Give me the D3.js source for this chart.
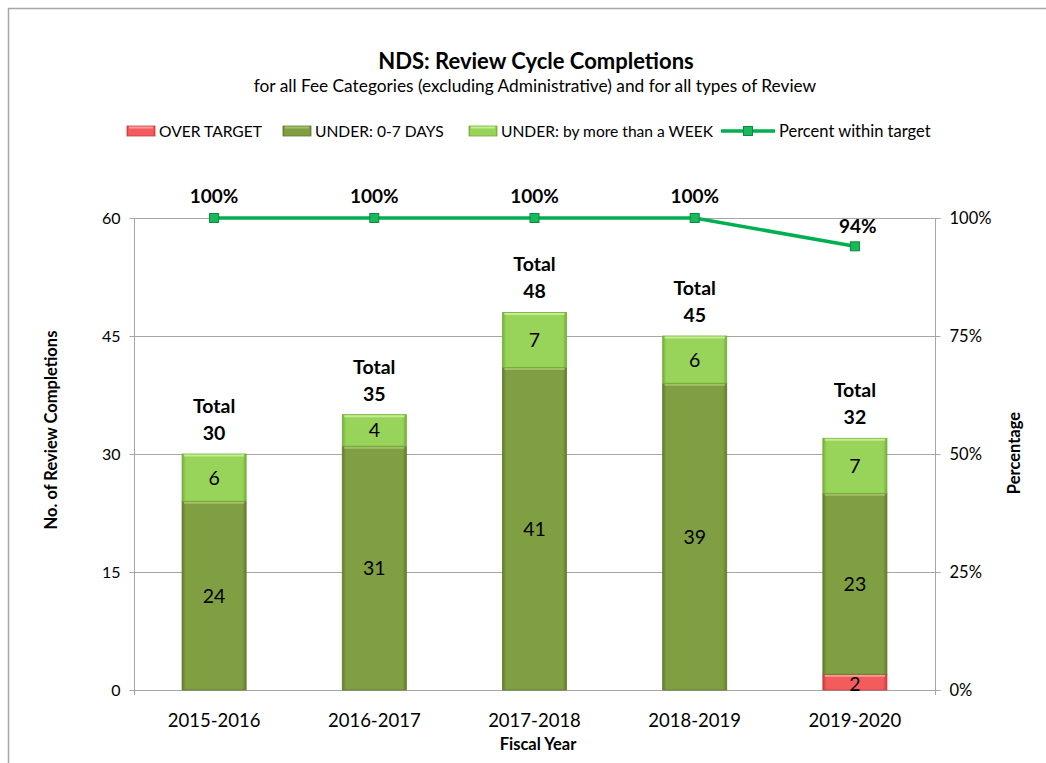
<!DOCTYPE html>
<html>
<head>
<meta charset="utf-8">
<script src="https://cdn.jsdelivr.net/npm/d3@7"></script>
<style>
  html, body { margin: 0; padding: 0; background: #fff; }
  svg { display: block; font-family: Lato, "Open Sans", sans-serif; }
</style>
</head>
<body>
<div id="chart"></div>
<script>
// Data
const years = ["2015-2016", "2016-2017", "2017-2018", "2018-2019", "2019-2020"];
const overTarget = [0, 0, 0, 0, 2];
const under07 = [24, 31, 41, 39, 23];
const underWeek = [6, 4, 7, 6, 7];
const percentWithin = [100, 100, 100, 100, 94];
const leftTicks = [0, 15, 30, 45, 60];
const rightTicks = [0, 25, 50, 75, 100];

const width = 1046;
const height = 763;
const margin = { left: 134, right: 111, top: 218, bottom: 73 };

const series = [
    { key: "over", name: "OVER TARGET", values: overTarget, fill: "#f25c5c", light: "#ff9a9a", dark: "#c83c3c" },
    { key: "under07", name: "UNDER: 0-7 DAYS", values: under07, fill: "#7f9f42", light: "#a3bf6a", dark: "#5f7c2c" },
    { key: "week", name: "UNDER: by more than a WEEK", values: underWeek, fill: "#99d45a", light: "#c4ec92", dark: "#74ad37" }
];

const svg = d3.select("#chart").append("svg")
    .attr("width", width)
    .attr("height", height);

// Chart border
svg.append("path")
    .attr("d", `M8.5,${height} V8.5 H${width}`)
    .attr("fill", "none")
    .attr("stroke", "#a6a6a6")
    .attr("stroke-width", 1.5);

const x = d3.scaleBand()
    .domain(years)
    .range([margin.left, width - margin.right])
    .paddingInner(0.6)
    .paddingOuter(0.3);

const y = d3.scaleLinear()
    .domain([0, 60])
    .range([height - margin.bottom, margin.top]);

const yPct = d3.scaleLinear()
    .domain([0, 100])
    .range([height - margin.bottom, margin.top]);

// Gradients for bevel look
const defs = svg.append("defs");
series.forEach(s => {
    const g = defs.append("linearGradient")
        .attr("id", "grad-" + s.key)
        .attr("x1", 0).attr("x2", 1).attr("y1", 0).attr("y2", 0);
    g.append("stop").attr("offset", "0%").attr("stop-color", s.dark);
    g.append("stop").attr("offset", "6%").attr("stop-color", s.fill);
    g.append("stop").attr("offset", "94%").attr("stop-color", s.fill);
    g.append("stop").attr("offset", "100%").attr("stop-color", s.dark);
});

// Gridlines
svg.append("g")
    .selectAll("line")
    .data(leftTicks.slice(1))
    .join("line")
    .attr("x1", margin.left)
    .attr("x2", width - margin.right)
    .attr("y1", d => Math.round(y(d)) + 0.5)
    .attr("y2", d => Math.round(y(d)) + 0.5)
    .attr("stroke", "#a6a6a6")
    .attr("stroke-width", 1);

// Left axis
const leftAxis = svg.append("g")
    .attr("transform", `translate(${margin.left + 0.5},0)`)
    .call(d3.axisLeft(y).tickValues(leftTicks).tickSize(5).tickPadding(9));
leftAxis.select(".domain").attr("stroke", "#a6a6a6").attr("d", `M0,${margin.top} V${height - margin.bottom + 5}`);
leftAxis.selectAll(".tick line").attr("stroke", "#a6a6a6");
leftAxis.selectAll(".tick text").attr("font-size", 16).attr("fill", "#000").attr("font-family", "Lato, sans-serif");

// Right axis
const rightAxis = svg.append("g")
    .attr("transform", `translate(${width - margin.right + 0.5},0)`)
    .call(d3.axisRight(yPct).tickValues(rightTicks).tickFormat(d => d + "%").tickSize(5).tickPadding(9));
rightAxis.select(".domain").attr("stroke", "#a6a6a6").attr("d", `M0,${margin.top} V${height - margin.bottom + 5}`);
rightAxis.selectAll(".tick line").attr("stroke", "#a6a6a6");
rightAxis.selectAll(".tick text").attr("font-size", 16.5).attr("fill", "#000").attr("font-family", "Lato, sans-serif");

// Baseline
svg.append("line")
    .attr("x1", margin.left)
    .attr("x2", width - margin.right)
    .attr("y1", y(0) + 0.5)
    .attr("y2", y(0) + 0.5)
    .attr("stroke", "#a6a6a6");

// Stacked bars
const rows = years.map((yr, i) => ({
    year: yr,
    over: overTarget[i],
    under07: under07[i],
    week: underWeek[i]
}));
const stack = d3.stack().keys(series.map(s => s.key));
const stacked = stack(rows);

stacked.forEach((layer, li) => {
    const s = series[li];
    const g = svg.append("g").attr("class", "layer-" + s.key);
    const segs = layer.filter(d => d[1] - d[0] > 0);
    g.selectAll("rect")
        .data(segs)
        .join("rect")
        .attr("x", d => x(d.data.year))
        .attr("y", d => y(d[1]))
        .attr("width", x.bandwidth())
        .attr("height", d => y(d[0]) - y(d[1]))
        .attr("fill", `url(#grad-${s.key})`)
        .attr("stroke", s.dark)
        .attr("stroke-width", 0.8);
    // top highlight
    g.selectAll("line.hl")
        .data(segs)
        .join("line")
        .attr("class", "hl")
        .attr("x1", d => x(d.data.year) + 2)
        .attr("x2", d => x(d.data.year) + x.bandwidth() - 2)
        .attr("y1", d => y(d[1]) + 1.5)
        .attr("y2", d => y(d[1]) + 1.5)
        .attr("stroke", s.light)
        .attr("stroke-width", 2);
    // value labels
    g.selectAll("text")
        .data(segs)
        .join("text")
        .attr("x", d => x(d.data.year) + x.bandwidth() / 2)
        .attr("y", d => s.key === "over" ? y(d[0]) + 1 : (y(d[0]) + y(d[1])) / 2 + 7)
        .attr("text-anchor", "middle")
        .attr("font-size", 19.5)
        .attr("fill", "#000")
        .text(d => d[1] - d[0]);
});

// Total labels
const totals = years.map((yr, i) => ({ year: yr, total: overTarget[i] + under07[i] + underWeek[i] }));
const totalG = svg.append("g");
totalG.selectAll("text.tl")
    .data(totals)
    .join("text")
    .attr("class", "tl")
    .attr("x", d => x(d.year) + x.bandwidth() / 2)
    .attr("y", d => y(d.total) - 41)
    .attr("text-anchor", "middle")
    .attr("font-size", 19.5)
    .attr("font-weight", "bold")
    .text("Total");
totalG.selectAll("text.tv")
    .data(totals)
    .join("text")
    .attr("class", "tv")
    .attr("x", d => x(d.year) + x.bandwidth() / 2)
    .attr("y", d => y(d.total) - 14)
    .attr("text-anchor", "middle")
    .attr("font-size", 19.5)
    .attr("font-weight", "bold")
    .text(d => d.total);

// Percent line
const pctData = years.map((yr, i) => ({ year: yr, value: percentWithin[i] }));
const cx = d => x(d.year) + x.bandwidth() / 2;
svg.append("path")
    .datum(pctData)
    .attr("fill", "none")
    .attr("stroke", "#00b050")
    .attr("stroke-width", 3.5)
    .attr("d", d3.line().x(cx).y(d => yPct(d.value)));
svg.append("g")
    .selectAll("rect")
    .data(pctData)
    .join("rect")
    .attr("x", d => cx(d) - 4.5)
    .attr("y", d => yPct(d.value) - 4.5)
    .attr("width", 9)
    .attr("height", 9)
    .attr("fill", "#19b85a")
    .attr("stroke", "#0a8a3c")
    .attr("stroke-width", 1);
svg.append("g")
    .selectAll("text")
    .data(pctData)
    .join("text")
    .attr("x", d => cx(d) + (d.value < 100 ? 3 : 0))
    .attr("y", d => yPct(d.value) - (d.value < 100 ? 13 : 15))
    .attr("text-anchor", "middle")
    .attr("font-size", 19)
    .attr("font-weight", "bold")
    .text(d => d.value + "%");

// X axis labels
svg.append("g")
    .selectAll("text")
    .data(years)
    .join("text")
    .attr("x", d => x(d) + x.bandwidth() / 2)
    .attr("y", 727)
    .attr("text-anchor", "middle")
    .attr("font-size", 18.5)
    .text(d => d);

// Titles
svg.append("text")
    .attr("x", 536).attr("y", 69)
    .attr("text-anchor", "middle")
    .attr("font-size", 22)
    .attr("font-weight", "bold")
    .text("NDS: Review Cycle Completions");
svg.append("text")
    .attr("x", 535).attr("y", 92)
    .attr("text-anchor", "middle")
    .attr("font-size", 17.3)
    .text("for all Fee Categories (excluding Administrative) and for all types of Review");

svg.append("text")
    .attr("x", 538).attr("y", 750)
    .attr("text-anchor", "middle")
    .attr("font-size", 16.5)
    .attr("font-weight", "bold")
    .text("Fiscal Year");

svg.append("text")
    .attr("transform", "translate(57,430) rotate(-90)")
    .attr("text-anchor", "middle")
    .attr("font-size", 16.5)
    .attr("font-weight", "bold")
    .text("No. of Review Completions");

svg.append("text")
    .attr("transform", "translate(1020,453) rotate(-90)")
    .attr("text-anchor", "middle")
    .attr("font-size", 16.5)
    .attr("font-weight", "bold")
    .text("Percentage");

// Legend
const legend = svg.append("g").attr("transform", "translate(0,131)");
const legendItems = [
    { x: 127, s: series[0] },
    { x: 283, s: series[1] },
    { x: 469, s: series[2] }
];
legendItems.forEach(item => {
    legend.append("rect")
        .attr("x", item.x).attr("y", -5)
        .attr("width", 28).attr("height", 10)
        .attr("fill", `url(#grad-${item.s.key})`)
        .attr("stroke", item.s.dark)
        .attr("stroke-width", 0.8);
    legend.append("line")
        .attr("x1", item.x + 2).attr("x2", item.x + 26)
        .attr("y1", -3.5).attr("y2", -3.5)
        .attr("stroke", item.s.light).attr("stroke-width", 2);
    legend.append("text")
        .attr("x", item.x + 32).attr("y", 6)
        .attr("font-size", 15.6)
        .text(item.s.name);
});
legend.append("line")
    .attr("x1", 721).attr("x2", 775)
    .attr("y1", 0).attr("y2", 0)
    .attr("stroke", "#00b050").attr("stroke-width", 3.5);
legend.append("rect")
    .attr("x", 743.5).attr("y", -4.5)
    .attr("width", 9).attr("height", 9)
    .attr("fill", "#19b85a").attr("stroke", "#0a8a3c");
legend.append("text")
    .attr("x", 779).attr("y", 6)
    .attr("font-size", 16.5)
    .text("Percent within target");
</script>
</body>
</html>
